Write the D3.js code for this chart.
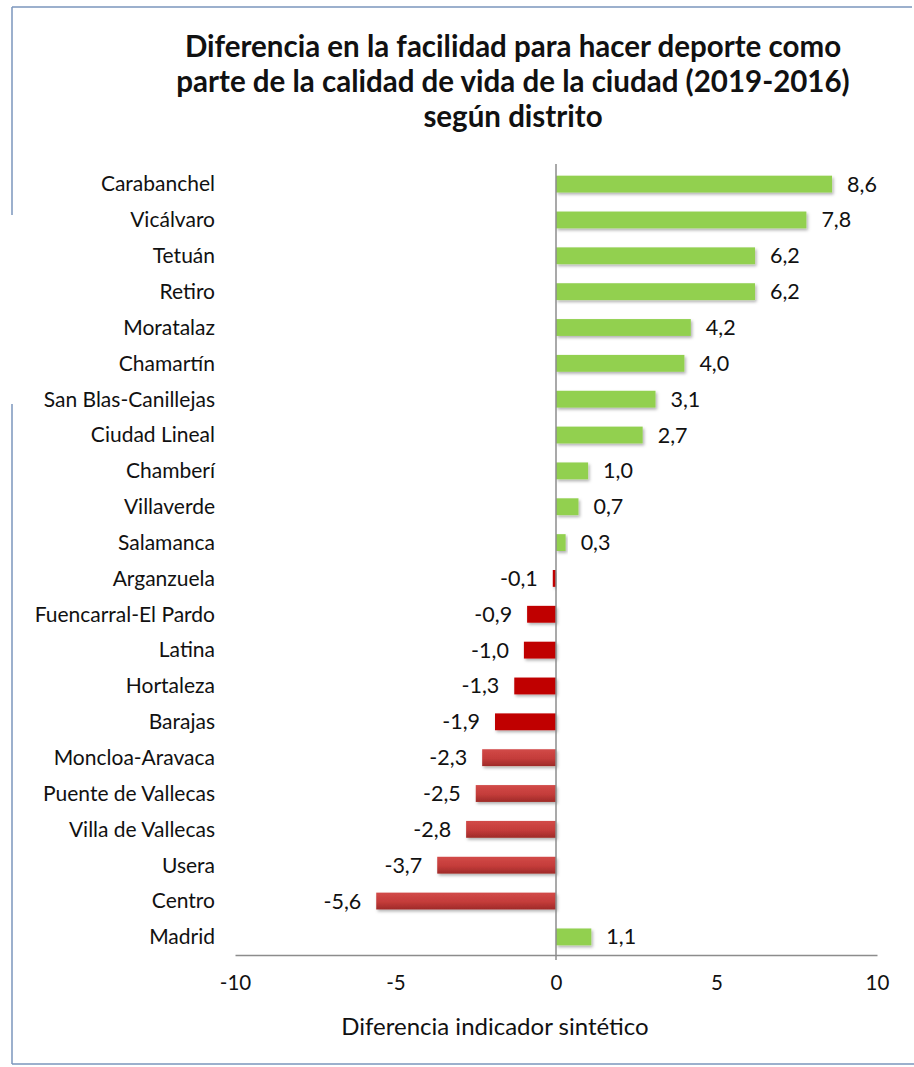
<!DOCTYPE html>
<html>
<head>
<meta charset="utf-8">
<script src="https://cdn.jsdelivr.net/npm/d3@7"></script>
<style>
  body { margin: 0; background: #fff; }
  svg text { font-family: Lato, "Open Sans", sans-serif; fill: #111; }
</style>
</head>
<body>
<div id="graph"></div>
<script>
var districts = ["Carabanchel", "Vicálvaro", "Tetuán", "Retiro", "Moratalaz", "Chamartín",
  "San Blas-Canillejas", "Ciudad Lineal", "Chamberí", "Villaverde", "Salamanca", "Arganzuela",
  "Fuencarral-El Pardo", "Latina", "Hortaleza", "Barajas", "Moncloa-Aravaca",
  "Puente de Vallecas", "Villa de Vallecas", "Usera", "Centro", "Madrid"];
var diffValues = [8.6, 7.8, 6.2, 6.2, 4.2, 4.0, 3.1, 2.7, 1.0, 0.7, 0.3, -0.1,
  -0.9, -1.0, -1.3, -1.9, -2.3, -2.5, -2.8, -3.7, -5.6, 1.1];
var xTicks = [-10, -5, 0, 5, 10];
var titleLines = ["Diferencia en la facilidad para hacer deporte como",
  "parte de la calidad de vida de la ciudad (2019-2016)",
  "según distrito"];

var data = districts.map(function(d, i) { return {name: d, value: diffValues[i]}; });

var svgWidth = 914, svgHeight = 1067;
var margin = {top: 166, right: 37, bottom: 112, left: 235};
var width = svgWidth - margin.left - margin.right;
var height = svgHeight - margin.top - margin.bottom;

var xScale = d3.scaleLinear().domain([-10, 10]).range([0, width]);
var yScale = d3.scaleBand().domain(districts).range([0, height]).paddingInner(0.53).paddingOuter(0.27);

var root = d3.select("#graph").append("svg")
  .attr("width", svgWidth)
  .attr("height", svgHeight);

// gradients + shadow
var defs = root.append("defs");
var gRed = defs.append("linearGradient").attr("id", "redGrad").attr("x1", 0).attr("y1", 0).attr("x2", 0).attr("y2", 1);
gRed.append("stop").attr("offset", "0%").attr("stop-color", "#d24a48");
gRed.append("stop").attr("offset", "55%").attr("stop-color", "#c43c3a");
gRed.append("stop").attr("offset", "100%").attr("stop-color", "#9e2a28");
var shadow = defs.append("filter").attr("id", "shadow").attr("x", "-10%").attr("y", "-30%").attr("width", "130%").attr("height", "180%");
shadow.append("feDropShadow").attr("dx", 1.5).attr("dy", 2).attr("stdDeviation", 1.5).attr("flood-color", "#000").attr("flood-opacity", 0.3);

// frame
var frame = "#7b96bc";
root.append("line").attr("x1", 12).attr("x2", 912).attr("y1", 7).attr("y2", 7).attr("stroke", frame).attr("stroke-width", 1.5);
root.append("line").attr("x1", 12).attr("x2", 12).attr("y1", 7).attr("y2", 215).attr("stroke", frame).attr("stroke-width", 1.5);
root.append("line").attr("x1", 12).attr("x2", 12).attr("y1", 404).attr("y2", 1064).attr("stroke", frame).attr("stroke-width", 1.5);
root.append("line").attr("x1", 12).attr("x2", 914).attr("y1", 1064).attr("y2", 1064).attr("stroke", frame).attr("stroke-width", 1.5);

// title
root.append("text")
  .attr("text-anchor", "middle")
  .style("font-size", "29.5px")
  .style("font-weight", "bold")
  .selectAll("tspan").data(titleLines).enter().append("tspan")
  .attr("x", 513)
  .attr("y", function(d, i) { return 57 + i * 35; })
  .text(function(d) { return d; });

var svg = root.append("g")
  .attr("transform", "translate(" + margin.left + "," + margin.top + ")");

// bars
svg.selectAll(".bar").data(data).enter().append("rect")
  .attr("class", "bar")
  .attr("x", function(d) { return xScale(Math.min(0, d.value)); })
  .attr("y", function(d) { return yScale(d.name); })
  .attr("width", function(d) { return Math.abs(xScale(d.value) - xScale(0)); })
  .attr("height", yScale.bandwidth())
  .attr("filter", "url(#shadow)")
  .style("fill", function(d) {
    if (d.value >= 0) return "#92d050";
    return d.value > -2 ? "#c00000" : "url(#redGrad)";
  });

// value labels
svg.selectAll(".val").data(data).enter().append("text")
  .attr("class", "val")
  .attr("x", function(d) { return d.value >= 0 ? xScale(d.value) + 15 : xScale(d.value) - 15; })
  .attr("y", function(d) { return yScale(d.name) + yScale.bandwidth() / 2; })
  .attr("dy", "0.35em")
  .attr("text-anchor", function(d) { return d.value >= 0 ? "start" : "end"; })
  .style("font-size", "21.5px")
  .text(function(d) { return d3.format(".1f")(d.value).replace(".", ",").replace("−", "-"); });

// category labels
svg.selectAll(".cat").data(data).enter().append("text")
  .attr("class", "cat")
  .attr("x", -20)
  .attr("y", function(d) { return yScale(d.name) + yScale.bandwidth() / 2; })
  .attr("dy", "0.35em")
  .attr("text-anchor", "end")
  .style("font-size", "21px")
  .text(function(d) { return d.name; });

// zero line
svg.append("line")
  .attr("x1", xScale(0)).attr("x2", xScale(0))
  .attr("y1", -2).attr("y2", height + 5)
  .attr("stroke", "#8c8c8c").attr("stroke-width", 1.5);

// x axis
var xAxis = svg.append("g")
  .attr("transform", "translate(0," + height + ")")
  .call(d3.axisBottom(xScale).tickValues(xTicks).tickSize(0).tickPadding(20).tickFormat(function(d) { return String(d); }));
xAxis.select(".domain").attr("stroke", "#8c8c8c").attr("stroke-width", 1.5);
xAxis.selectAll("text").style("font-size", "20.5px").style("font-family", "Lato, sans-serif").attr("fill", "#111");

svg.append("text")
  .attr("x", xScale(-1.9))
  .attr("y", height + 80)
  .attr("text-anchor", "middle")
  .style("font-size", "24px")
  .text("Diferencia indicador sintético");
</script>
</body>
</html>
